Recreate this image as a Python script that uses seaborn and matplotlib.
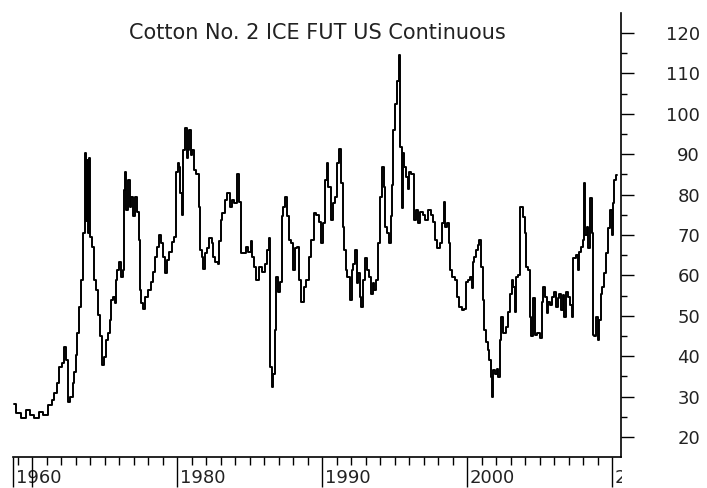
import matplotlib
matplotlib.use("Agg")
import matplotlib.pyplot as plt
import matplotlib.transforms as mtransforms
import seaborn as sns

# price series (year, US cents/lb)
years = [
    1968.76, 1969.05, 1969.4, 1969.74, 1969.98, 1970.3, 1970.67, 1970.9, 1971.24, 1971.47,
    1971.6, 1971.8, 1971.98, 1972.16, 1972.28, 1972.4, 1972.5, 1972.74, 1972.85, 1972.97,
    1973.08, 1973.19, 1973.3, 1973.43, 1973.59, 1973.66, 1973.72, 1973.8, 1973.88, 1974.0,
    1974.05, 1974.23, 1974.35, 1974.5, 1974.58, 1974.74, 1974.88, 1975.03, 1975.15, 1975.33,
    1975.43, 1975.5, 1975.66, 1975.8, 1975.84, 1975.95, 1976.07, 1976.19, 1976.3, 1976.37,
    1976.48, 1976.53, 1976.71, 1976.8, 1976.9, 1977.03, 1977.17, 1977.29, 1977.4, 1977.45,
    1977.63, 1977.72, 1977.9, 1978.09, 1978.26, 1978.41, 1978.55, 1978.71, 1978.83, 1978.94,
    1979.1, 1979.22, 1979.33, 1979.52, 1979.75, 1979.86,
    1979.98, 1980.09, 1980.2, 1980.28, 1980.39, 1980.48, 1980.62, 1980.71, 1980.8, 1980.9,
    1981.01, 1981.12, 1981.24, 1981.43, 1981.54, 1981.63, 1981.75, 1981.86, 1982.0, 1982.16,
    1982.32, 1982.46, 1982.55, 1982.74, 1982.85, 1982.97, 1983.08, 1983.19, 1983.38, 1983.54,
    1983.7, 1983.84, 1984.0, 1984.23, 1984.34, 1984.46, 1984.69, 1984.8, 1984.99, 1985.15,
    1985.26, 1985.38, 1985.54, 1985.72, 1985.95, 1986.14, 1986.26, 1986.41, 1986.48, 1986.6,
    1986.69, 1986.76, 1986.88, 1987.06, 1987.17, 1987.26, 1987.4, 1987.52, 1987.63, 1987.79,
    1987.91, 1988.07, 1988.21, 1988.37, 1988.48, 1988.64, 1988.83, 1988.99, 1989.17, 1989.36,
    1989.52, 1989.68,
    1989.86, 1989.98, 1990.14, 1990.28, 1990.39, 1990.5, 1990.67, 1990.83, 1990.97, 1991.12,
    1991.24, 1991.36, 1991.47, 1991.59, 1991.7, 1991.81, 1991.98, 1992.09, 1992.23, 1992.34,
    1992.44, 1992.57, 1992.67, 1992.76, 1992.9, 1993.03, 1993.19, 1993.31, 1993.43, 1993.54,
    1993.66, 1993.82, 1993.91, 1994.05, 1994.19, 1994.3, 1994.41, 1994.57, 1994.69, 1994.76,
    1994.87, 1994.97, 1995.1, 1995.22, 1995.33, 1995.45, 1995.52, 1995.61, 1995.72, 1995.84,
    1995.95, 1996.07, 1996.26, 1996.37, 1996.53, 1996.71, 1996.87, 1997.03, 1997.22, 1997.4,
    1997.57, 1997.72, 1997.86, 1998.02, 1998.19, 1998.32, 1998.44, 1998.55, 1998.67, 1998.78,
    1998.9, 1999.06, 1999.24, 1999.36, 1999.52, 1999.75,
    1999.9, 1999.98, 2000.14, 2000.28, 2000.37, 2000.44, 2000.55, 2000.67, 2000.78, 2000.9,
    2001.01, 2001.13, 2001.24, 2001.36, 2001.47, 2001.59, 2001.66, 2001.75, 2001.86, 2001.98,
    2002.09, 2002.21, 2002.3, 2002.44, 2002.57, 2002.74, 2002.85, 2003.03, 2003.12, 2003.26,
    2003.36, 2003.43, 2003.59, 2003.7, 2003.81, 2003.95, 2004.05, 2004.11, 2004.28, 2004.39,
    2004.5, 2004.64, 2004.74, 2004.92, 2005.1, 2005.19, 2005.31, 2005.43, 2005.56, 2005.66,
    2005.79, 2005.95, 2006.07, 2006.18, 2006.3, 2006.41, 2006.53, 2006.64, 2006.76, 2006.87,
    2007.03, 2007.17, 2007.26, 2007.4, 2007.57, 2007.68, 2007.79, 2007.91, 2008.02, 2008.09,
    2008.19, 2008.33, 2008.42, 2008.53, 2008.64, 2008.71, 2008.83, 2008.94, 2009.06, 2009.17,
    2009.24, 2009.4, 2009.52, 2009.68, 2009.79, 2009.93, 2010.05, 2010.12, 2010.21, 2010.34,
]
prices = [
    28.2, 26.0, 24.7, 26.7, 25.4, 24.7, 26.3, 25.4, 27.9, 29.1,
    30.9, 33.4, 37.4, 38.3, 42.4, 39.1, 28.7, 30.0, 33.4, 36.1,
    40.3, 45.7, 52.3, 58.8, 70.5, 90.3, 73.4, 88.5, 70.5, 89.0,
    69.6, 67.1, 58.8, 56.4, 50.2, 44.9, 37.8, 39.8, 44.0, 45.7,
    49.0, 53.9, 54.7, 53.1, 58.8, 61.3, 63.3, 59.6, 61.3, 81.1,
    85.6, 76.2, 83.6, 77.0, 79.5, 74.6, 79.5, 75.8, 68.8, 56.4,
    53.1, 51.8, 54.7, 56.4, 58.4, 60.9, 64.6, 67.1, 70.0, 68.0,
    64.6, 60.5, 63.7, 65.7, 68.3, 69.6,
    85.6, 87.7, 86.9, 80.3, 75.0, 91.1, 96.4, 89.0, 91.1, 96.0,
    89.8, 91.1, 86.0, 85.2, 77.0, 66.3, 64.6, 61.7, 65.5, 66.7,
    69.2, 68.0, 64.6, 63.3, 62.9, 68.4, 73.7, 75.4, 78.7, 80.3,
    77.0, 78.7, 77.8, 85.2, 78.2, 65.5, 65.5, 67.1, 65.9, 68.4,
    64.6, 62.1, 58.8, 62.1, 60.9, 62.9, 66.3, 69.2, 37.4, 32.4,
    35.7, 46.5, 59.6, 56.0, 58.4, 74.6, 77.0, 79.5, 74.6, 68.8,
    68.0, 61.3, 66.7, 67.1, 58.8, 53.5, 57.2, 58.8, 64.6, 68.8,
    75.4, 75.0,
    73.3, 68.0, 72.9, 83.6, 87.7, 81.9, 73.7, 77.8, 79.5, 87.7,
    91.4, 82.8, 72.1, 66.3, 61.3, 59.6, 53.9, 61.3, 62.9, 66.3,
    58.0, 60.5, 54.7, 52.3, 58.8, 64.2, 61.3, 59.6, 55.5, 58.0,
    56.4, 58.8, 68.0, 79.5, 86.9, 81.9, 72.1, 70.4, 68.0, 74.6,
    82.4, 95.9, 102.5, 108.2, 114.5, 91.9, 76.6, 90.3, 86.9, 84.4,
    81.5, 85.6, 85.2, 73.7, 76.2, 72.9, 75.8, 75.0, 73.7, 76.2,
    75.0, 73.3, 68.8, 66.7, 68.0, 72.9, 78.2, 72.1, 72.9, 68.0,
    61.3, 59.6, 58.8, 54.7, 52.3, 51.4,
    51.8, 58.4, 58.8, 59.6, 56.8, 63.3, 64.6, 66.3, 67.6, 68.8,
    62.1, 53.9, 46.5, 43.6, 41.6, 39.1, 34.9, 30.0, 36.5, 35.7,
    36.9, 34.9, 44.0, 49.8, 45.7, 47.3, 51.0, 55.5, 58.8, 57.2,
    51.0, 59.6, 60.1, 76.9, 76.9, 74.4, 70.6, 62.1, 61.3, 49.8,
    44.9, 54.3, 45.3, 45.7, 44.4, 53.5, 57.2, 54.7, 50.6, 53.5,
    52.7, 54.7, 56.0, 52.3, 54.3, 55.5, 51.4, 55.1, 49.8, 56.0,
    54.7, 52.7, 49.8, 64.2, 65.1, 61.3, 65.9, 67.1, 68.8, 82.9,
    70.0, 72.1, 66.7, 79.1, 70.4, 45.3, 44.9, 49.8, 44.0, 49.0,
    55.5, 57.2, 60.5, 65.5, 71.7, 76.2, 70.0, 77.8, 83.6, 84.8,
]

title = "Cotton No. 2 ICE FUT US Continuous"
x_major = [1968.69, 1970, 1980, 1990, 2000, 2010]
x_major_labels = ["1960", "", "1980", "1990", "2000", "2010"]
x_minor = [y for y in range(1969, 2010) if y % 10 != 0]
y_major = list(range(20, 121, 10))
y_minor = list(range(25, 121, 10))

sns.set_style("white")
plt.rcParams["font.family"] = ["DejaVu Sans"]

fig = plt.figure(figsize=(7.07, 4.88), dpi=100)
ax = fig.add_axes([0.0184, 0.0635, 0.8600, 0.9099])

sns.lineplot(x=years, y=prices, color="black", linewidth=1.4,
             sort=False, estimator=None, drawstyle="steps-mid", ax=ax)

ax.set_xlim(1968.69, 2010.62)
ax.set_ylim(15.05, 124.95)

for side in ["top", "left"]:
    ax.spines[side].set_visible(False)
for side in ["bottom", "right"]:
    ax.spines[side].set_color("black")
    ax.spines[side].set_linewidth(1.2)

ax.yaxis.tick_right()
ax.set_xticks(x_major)
ax.set_xticklabels(x_major_labels)
ax.set_xticks(x_minor, minor=True)
ax.set_yticks(y_major)
ax.set_yticks(y_minor, minor=True)

ax.tick_params(axis="x", which="both", bottom=True, top=False)
ax.tick_params(axis="y", which="both", right=True, left=False)
ax.tick_params(axis="x", which="major", direction="out", length=21.6, width=1,
               color="black", pad=-13, labelsize=13, labelcolor="#222222")
ax.tick_params(axis="x", which="minor", direction="out", length=6, width=1, color="black")
ax.tick_params(axis="y", which="major", direction="out", length=9.4, width=1,
               color="black", pad=47.5, labelsize=13, labelcolor="#222222")
ax.tick_params(axis="y", which="minor", direction="out", length=4.5, width=1, color="black")

shift = mtransforms.ScaledTranslation(3 / 100, 0, fig.dpi_scale_trans)
for lbl in ax.get_xticklabels():
    lbl.set_horizontalalignment("left")
    lbl.set_transform(lbl.get_transform() + shift)
# the last year label is cut by the edge of the chart
last = ax.get_xticklabels()[-1]
last.set_clip_on(True)
last.set_clip_box(mtransforms.Bbox.from_extents(0, 0, 622, 488))

for lbl in ax.get_yticklabels():
    lbl.set_horizontalalignment("right")

ax.set_xlabel("")
ax.set_ylabel("")
ax.text(0.5, 1 - 20 / 443, title, transform=ax.transAxes, ha="center", va="center",
        fontsize=15, color="#222222")

fig.savefig("out.png", dpi=100)
